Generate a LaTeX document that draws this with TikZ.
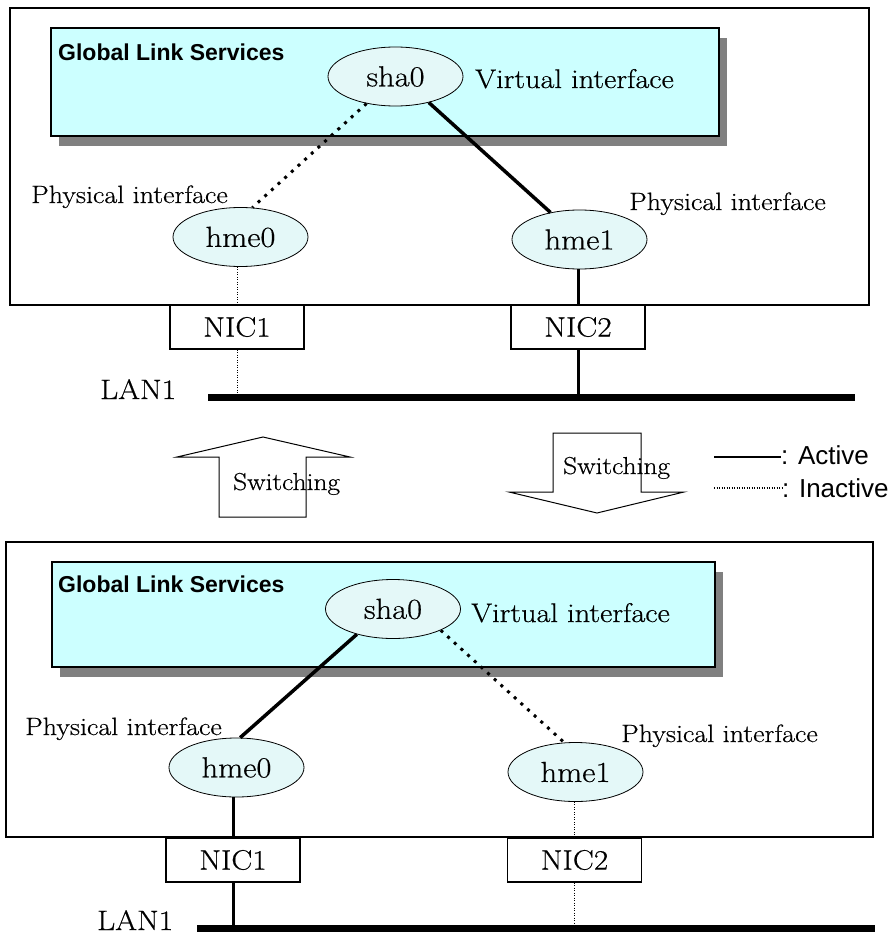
\documentclass[tikz,border=0pt]{standalone}
\usepackage{fontspec}
\newfontfamily\glsfont{Liberation Sans}
\newfontfamily\wideserif{Latin Modern Roman}[FakeStretch=1.12,FakeBold=0.5]
\usetikzlibrary{shapes.geometric}
\definecolor{glscyan}{HTML}{CCFFFF}
\definecolor{ifacefill}{HTML}{E4F8F8}
\definecolor{shade}{HTML}{808080}
\tikzset{
  panel/.style={draw=black,line width=1.3pt,fill=white},
  glsbox/.style={draw=black,line width=1.3pt,fill=glscyan},
  glsshadow/.style={fill=shade},
  iface/.style={ellipse,draw=black,line width=0.8pt,fill=ifacefill,minimum width=135pt,
                minimum height=59pt,inner sep=0pt,font=\wideserif\fontsize{29}{32}\selectfont},
  nic/.style={draw=black,line width=1.3pt,fill=white,minimum width=134pt,minimum height=44pt,
              inner sep=0pt,font=\wideserif\fontsize{28}{32}\selectfont},
  lbl/.style={inner sep=0pt,anchor=base west,font=\wideserif\fontsize{25}{28}\selectfont},
  virtlbl/.style={inner sep=0pt,anchor=base west,font=\wideserif\fontsize{27}{30}\selectfont},
  lanlbl/.style={inner sep=0pt,anchor=base west,font=\wideserif\fontsize{28}{32}\selectfont},
  swlbl/.style={inner sep=0pt,anchor=base west,font=\wideserif\fontsize{24.5}{28}\selectfont},
  glstitle/.style={inner sep=0pt,anchor=base west,font=\glsfont\bfseries\fontsize{23}{26}\selectfont},
  legend/.style={inner sep=0pt,anchor=base west,font=\glsfont\fontsize{26}{30}\selectfont},
  active/.style={line width=3.5pt},
  inactive/.style={line width=3pt,dash pattern=on 3pt off 6pt},
  link/.style={line width=3pt},
  idle/.style={line width=0.8pt,dash pattern=on 1pt off 1.5pt},
  bus/.style={line width=7pt},
  switcharrow/.style={draw=black,line width=1pt,fill=white}
}
\begin{document}
\begin{tikzpicture}[x=1pt,y=-1pt]
\useasboundingbox (0,0) rectangle (890,934);
% upper state
\draw[panel] (10,8) rectangle (869,305);
\fill[glsshadow] (59,38) rectangle (727,146);
\draw[glsbox] (51,28) rectangle (719,136);
\node[glstitle] (glsa) at (58,61) {Global Link Services};
\node[iface] (sha0a) at (395.5,76.5) {sha0};
\node[virtlbl] (virta) at (475,88) {Virtual interface};
\node[iface] (hme0a) at (240.5,237) {hme0};
\node[iface] (hme1a) at (579.5,239.5) {hme1};
\node[lbl] (phys0a) at (31,203) {Physical interface};
\node[lbl] (phys1a) at (629,210) {Physical interface};
\node[nic] (nic1a) at (237,327) {NIC1};
\node[nic] (nic2a) at (578,327) {NIC2};
\node[lanlbl] (lana) at (100,399) {LAN1};
\coordinate (busa0) at (208,397.5);
\coordinate (busa1) at (855,397.5);
\draw[inactive] (sha0a.223) -- (hme0a.68);
\draw[active] (sha0a.322) -- (hme1a.137);
\draw[idle] (nic1a.north |- hme0a.south) -- (nic1a.north);
\draw[idle] (nic1a.south) -- (nic1a.south |- busa0);
\draw[link] (nic2a.north |- hme1a.south) -- (nic2a.north);
\draw[link] (nic2a.south) -- (nic2a.south |- busa0);
\draw[bus] (busa0) -- (busa1);
% switching arrows and legend
\draw[switcharrow] (263,437) -- (350,457) -- (306,457) -- (306,517) -- (219,517) -- (219,457) -- (177,457) -- cycle;
\node[swlbl] (swup) at (233,490) {Switching};
\draw[switcharrow] (553,433) -- (641,433) -- (641,492) -- (684,492) -- (597,513) -- (509,492) -- (553,492) -- cycle;
\node[swlbl] (swdown) at (563,474) {Switching};
\coordinate (act0) at (714,457);
\node[legend] (actlbl) at (781,464) {: Active};
\draw[line width=1.3pt] (act0) -- (act0 -| actlbl.west);
\coordinate (inact0) at (714,488);
\node[legend] (inactlbl) at (782,497) {: Inactive};
\draw[idle,line width=1.3pt] (inact0) -- (inact0 -| inactlbl.west);
% lower state
\draw[panel] (6,542) rectangle (873,837);
\fill[glsshadow] (60,572) rectangle (723,677);
\draw[glsbox] (52,562) rectangle (715,667);
\node[glstitle] (glsb) at (58,592) {Global Link Services};
\node[iface] (sha0b) at (393,609) {sha0};
\node[virtlbl] (virtb) at (471,622) {Virtual interface};
\node[iface] (hme0b) at (236.5,767.5) {hme0};
\node[iface] (hme1b) at (575.5,772) {hme1};
\node[lbl] (phys0b) at (25,735) {Physical interface};
\node[lbl] (phys1b) at (621,742) {Physical interface};
\node[nic] (nic1b) at (233,860) {NIC1};
\node[nic] (nic2b) at (574.5,860) {NIC2};
\node[lanlbl] (lanb) at (97,930) {LAN1};
\coordinate (busb0) at (197,928.5);
\coordinate (busb1) at (875,928.5);
\draw[active] (sha0b.215) -- (hme0b.83);
\draw[inactive] (sha0b.336) -- (hme1b.111);
\draw[link] (nic1b.north |- hme0b.south) -- (nic1b.north);
\draw[link] (nic1b.south) -- (nic1b.south |- busb0);
\draw[idle] (nic2b.north |- hme1b.south) -- (nic2b.north);
\draw[idle] (nic2b.south) -- (nic2b.south |- busb0);
\draw[bus] (busb0) -- (busb1);
\end{tikzpicture}
\end{document}
